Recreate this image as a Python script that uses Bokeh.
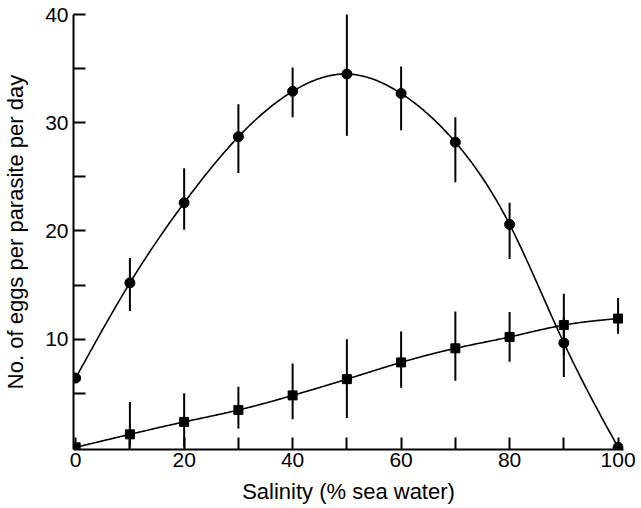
import numpy as np
from bokeh.plotting import figure
from bokeh.models import FixedTicker, Range1d
from bokeh.embed import file_html
from bokeh.resources import INLINE

# --- data ---
salinity = [0, 10, 20, 30, 40, 50, 60, 70, 80, 90, 100]

# circles
eggs_a = [6.4, 15.2, 22.6, 28.7, 32.9, 34.5, 32.7, 28.2, 20.6, 9.65, 0.0]
eggs_a_lo = [6.4, 12.6, 20.1, 25.35, 30.5, 28.8, 29.3, 24.5, 17.4, 6.5, 0.0]
eggs_a_hi = [6.4, 17.5, 25.8, 31.7, 35.1, 40.2, 35.2, 30.5, 22.6, 12.0, 0.0]

# squares
eggs_b = [0.0, 1.2, 2.35, 3.45, 4.8, 6.3, 7.85, 9.15, 10.2, 11.3, 11.9]
eggs_b_lo = [0.0, 0.0, 0.0, 1.75, 2.6, 2.7, 5.5, 6.15, 7.9, 8.5, 10.5]
eggs_b_hi = [0.0, 4.2, 5.0, 5.6, 7.75, 10.0, 10.7, 12.55, 12.5, 14.2, 13.8]

x_major = [0, 20, 40, 60, 80, 100]
x_minor = [10, 30, 50, 70, 90]
y_major = [10, 20, 30, 40]
y_minor = [5, 15, 25, 35]

x_title = "Salinity (% sea water)"
y_title = "No. of eggs per parasite per day"


def natural_spline(xs, ys, n=400):
    xs = np.asarray(xs, float)
    ys = np.asarray(ys, float)
    m = len(xs)
    h = np.diff(xs)
    A = np.zeros((m, m))
    r = np.zeros(m)
    A[0, 0] = 1
    A[-1, -1] = 1
    for i in range(1, m - 1):
        A[i, i - 1] = h[i - 1]
        A[i, i] = 2 * (h[i - 1] + h[i])
        A[i, i + 1] = h[i]
        r[i] = 6 * ((ys[i + 1] - ys[i]) / h[i] - (ys[i] - ys[i - 1]) / h[i - 1])
    M = np.linalg.solve(A, r)
    xx = np.linspace(xs[0], xs[-1], n)
    yy = np.empty_like(xx)
    for k, xv in enumerate(xx):
        i = min(np.searchsorted(xs, xv, side="right") - 1, m - 2)
        t0 = xs[i + 1] - xv
        t1 = xv - xs[i]
        yy[k] = (M[i] * t0 ** 3 / (6 * h[i]) + M[i + 1] * t1 ** 3 / (6 * h[i])
                 + (ys[i] / h[i] - M[i] * h[i] / 6) * t0
                 + (ys[i + 1] / h[i] - M[i + 1] * h[i] / 6) * t1)
    return xx, yy


FONT = "Liberation Sans"

p = figure(width=641, height=508, output_backend="svg", toolbar_location=None,
           x_range=Range1d(-0.4, 101), y_range=Range1d(-0.2, 40),
           min_border_left=70, min_border_right=18, min_border_top=14,
           min_border_bottom=59)
p.outline_line_color = None
p.grid.visible = False
p.background_fill_color = "white"
p.border_fill_color = "white"

xa, ya = natural_spline(salinity, eggs_a)
xb, yb = natural_spline(salinity, eggs_b)
p.line(xa, ya, line_color="black", line_width=1.6)
p.line(xb, yb, line_color="black", line_width=1.6)

p.segment(x0=salinity, y0=eggs_a_lo, x1=salinity, y1=eggs_a_hi,
          line_color="black", line_width=2)
p.segment(x0=salinity, y0=eggs_b_lo, x1=salinity, y1=eggs_b_hi,
          line_color="black", line_width=2)

p.scatter(salinity, eggs_a, marker="circle", size=10, fill_color="black",
          line_color="black")
p.scatter(salinity, eggs_b, marker="square", size=9, fill_color="black",
          line_color="black")

for ax in (p.xaxis[0], p.yaxis[0]):
    ax.axis_line_width = 2
    ax.axis_line_color = "black"
    ax.major_tick_line_width = 2
    ax.minor_tick_line_width = 2
    ax.major_tick_in = 12
    ax.major_tick_out = 0
    ax.minor_tick_in = 12
    ax.minor_tick_out = 0
    ax.major_label_text_font = FONT
    ax.major_label_text_font_size = "21px"
    ax.major_label_text_color = "black"
    ax.axis_label_text_font = FONT
    ax.axis_label_text_font_size = "22px"
    ax.axis_label_text_font_style = "normal"
    ax.axis_label_text_color = "black"

p.xaxis[0].ticker = FixedTicker(ticks=x_major, minor_ticks=x_minor)
p.yaxis[0].ticker = FixedTicker(ticks=y_major, minor_ticks=y_minor)
p.xaxis[0].axis_label = x_title
p.yaxis[0].axis_label = y_title
p.xaxis[0].major_label_standoff = 3
p.xaxis[0].axis_label_standoff = 9
p.yaxis[0].major_label_standoff = 5
p.yaxis[0].axis_label_standoff = 14

open("out.html", "w").write(file_html(p, INLINE))
